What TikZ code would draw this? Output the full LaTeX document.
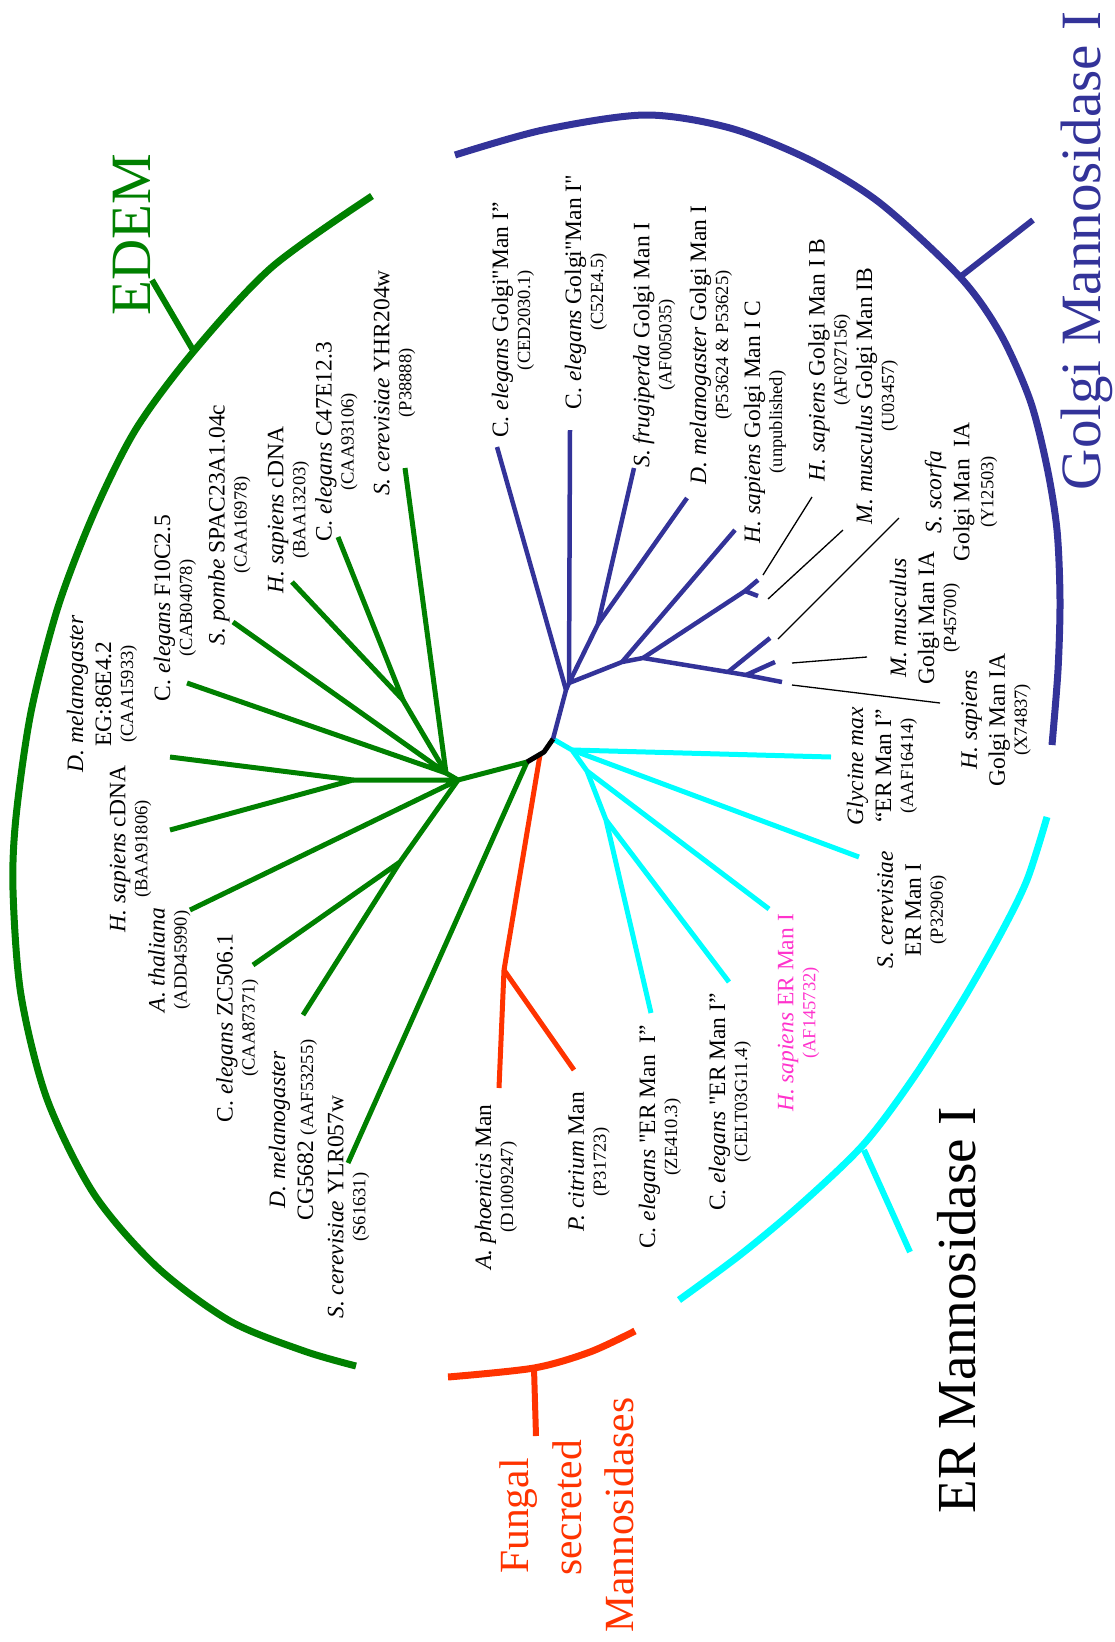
\documentclass[tikz,border=0pt]{standalone}
\usepackage{fontspec}
\setmainfont{Liberation Serif}[Ligatures=TeXOff]
\definecolor{edemgreen}{RGB}{0,128,0}
\definecolor{golgiblue}{RGB}{51,51,153}
\definecolor{ercyan}{RGB}{0,255,255}
\definecolor{fungred}{RGB}{255,51,0}
\definecolor{hsmag}{RGB}{255,51,204}
\newcommand\acc[1]{{\fontsize{18.5}{22}\selectfont #1}}
\tikzset{
 lbl/.style={rotate=90, align=center, inner sep=0pt, font=\fontsize{23.5}{28}\selectfont},
 big/.style={rotate=90, anchor=base, inner sep=0pt},
 gbr/.style={draw=edemgreen, line width=5pt, line join=round},
 bbr/.style={draw=golgiblue, line width=4.5pt, line join=round},
 cbr/.style={draw=ercyan, line width=5pt, line join=round},
 rbr/.style={draw=fungred, line width=5pt, line join=round},
 kbr/.style={draw=black, line width=5pt, line join=round},
 arcst/.style={line width=7pt},
 tickst/.style={line width=6pt},
 leader/.style={draw=black, line width=1.3pt},
}
\begin{document}
\begin{tikzpicture}[x=1pt,y=-1pt]
\useasboundingbox (0,0) rectangle (1115,1642);

% ---------- clade arcs ----------
\draw[arcst, edemgreen] plot[smooth] coordinates {(372,196) (272,267) (194,351) (136,429) (94,513) (58,607) (31,712) (16,817) (13,890) (21,995) (47,1099) (94,1194) (157,1267) (230,1321) (304,1351) (356,1366)};
\draw[arcst, golgiblue] plot[smooth] coordinates {(455,155) (543,130) (645,115) (730,128) (810,160) (880,203) (960,277) (1000,333) (1030,400) (1047,467) (1057,530) (1060,600) (1058,670) (1052,745)};
\draw[arcst, ercyan] plot[smooth] coordinates {(1047,817) (1027,880) (1000,935) (960,1005) (912,1080) (863,1145) (800,1205) (740,1255) (679,1300)};
\draw[arcst, fungred] plot[smooth] coordinates {(448,1377) (534,1368) (590,1352) (635,1331)};

\coordinate (tkg1) at (193,350); \coordinate (tkg2) at (152,280);
\coordinate (tkb1) at (960,277); \coordinate (tkb2) at (1033,220);
\coordinate (tkc1) at (864,1150); \coordinate (tkc2) at (910,1252);
\coordinate (tkr1) at (534,1368); \coordinate (tkr2) at (536,1436);
\draw[tickst, edemgreen] (tkg1) -- (tkg2);
\draw[tickst, golgiblue] (tkb1) -- (tkb2);
\draw[tickst, ercyan] (tkc1) -- (tkc2);
\draw[tickst, fungred] (tkr1) -- (tkr2);

% ---------- clade titles ----------
\node[big, text=edemgreen, font=\fontsize{57}{60}\selectfont] (tEDEM) at (150,235) {EDEM};
\node[big, text=golgiblue, font=\fontsize{57}{60}\selectfont] (tGolgi) at (1100,251) {Golgi Mannosidase I};
\node[big, text=black, font=\fontsize{55}{60}\selectfont] (tER) at (975,1310) {ER Mannosidase I};
\node[big, text=fungred, font=\fontsize{41.5}{52}\selectfont] (tF1) at (528,1516) {Fungal};
\node[big, text=fungred, font=\fontsize{41.5}{52}\selectfont] (tF2) at (581,1508) {secreted};
\node[big, text=fungred, font=\fontsize{41.5}{52}\selectfont] (tF3) at (633,1515) {Mannosidases};

% ---------- tree coordinates ----------
% green
\coordinate (E) at (527,762);
\coordinate (A2) at (458,780);
\coordinate (A) at (446,773);
\coordinate (C) at (403,700);
\coordinate (B) at (353,780);
\coordinate (D) at (400,862);
\coordinate (gt1) at (170,757);
\coordinate (gt2) at (187,683);
\coordinate (gt3) at (233,622);
\coordinate (gt4) at (292,582);
\coordinate (gt5) at (338,537);
\coordinate (gt6) at (405,468);
\coordinate (gt7) at (170,830);
\coordinate (gt8) at (190,910);
\coordinate (gt9) at (253,965);
\coordinate (gt10) at (303,1015);
\coordinate (gt11) at (348,1163);
% black / root
\coordinate (K1) at (544,752);
\coordinate (R0) at (553,739);
\coordinate (Rs) at (540,755);
% red
\coordinate (F) at (504,970);
\coordinate (rt1) at (499,1088);
\coordinate (rt2) at (574,1070);
% blue
\coordinate (J0) at (566,690);
\coordinate (J) at (569,683);
\coordinate (K) at (598,624);
\coordinate (L) at (622,662);
\coordinate (M) at (643,658);
\coordinate (N) at (745,591);
\coordinate (O) at (728,672);
\coordinate (P) at (746,675);
\coordinate (bt1) at (497,447);
\coordinate (bt2) at (570,430);
\coordinate (bt3) at (634,468);
\coordinate (bt4) at (687,498);
\coordinate (bt5) at (735,530);
\coordinate (bt6) at (758,580);
\coordinate (bt7) at (758,596);
\coordinate (bt8) at (770,638);
\coordinate (bt9) at (775,662);
\coordinate (bt10) at (782,682);
% cyan
\coordinate (G) at (572,750);
\coordinate (H) at (587,771);
\coordinate (I) at (606,820);
\coordinate (ct1) at (831,757);
\coordinate (ct2) at (859,857);
\coordinate (ct3) at (769,909);
\coordinate (ct4) at (729,982);
\coordinate (ct5) at (651,1013);

% ---------- branches ----------
\draw[gbr] (gt11) -- (E) -- (A2) -- (A) -- (gt6);
\draw[gbr] (gt2) -- (A) -- (gt3);
\draw[gbr] (gt4) -- (C) -- (gt5);
\draw[gbr] (C) -- (A);
\draw[gbr] (gt1) -- (B) -- (gt7);
\draw[gbr] (B) -- (A2) -- (gt8);
\draw[gbr] (A2) -- (D) -- (gt9);
\draw[gbr] (D) -- (gt10);

\draw[rbr] (Rs) -- (F) -- (rt1);
\draw[rbr] (F) -- (rt2);

\draw[cbr] (R0) -- (G) -- (H) -- (I) -- (ct5);
\draw[cbr] (G) -- (ct1);
\draw[cbr] (G) -- (ct2);
\draw[cbr] (H) -- (ct3);
\draw[cbr] (I) -- (ct4);

\draw[bbr] (R0) -- (J0) -- (J) -- (bt2);
\draw[bbr] (bt1) -- (J0);
\draw[bbr] (bt3) -- (K) -- (J) -- (L) -- (M) -- (O) -- (P) -- (bt10);
\draw[bbr] (bt4) -- (K);
\draw[bbr] (bt5) -- (L);
\draw[bbr] (M) -- (N) -- (bt6);
\draw[bbr] (N) -- (bt7);
\draw[bbr] (O) -- (bt8);
\draw[bbr] (P) -- (bt9);

\draw[kbr] (E) -- (K1) -- (R0);

% ---------- leader lines ----------
\coordinate (ld1a) at (763,575); \coordinate (ld1b) at (812,497);
\coordinate (ld2a) at (768,599); \coordinate (ld2b) at (843,530);
\coordinate (ld3a) at (778,639); \coordinate (ld3b) at (899,518);
\coordinate (ld4a) at (792,663); \coordinate (ld4b) at (867,657);
\coordinate (ld5a) at (792,685); \coordinate (ld5b) at (940,703);
\draw[leader] (ld1a) -- (ld1b);
\draw[leader] (ld2a) -- (ld2b);
\draw[leader] (ld3a) -- (ld3b);
\draw[leader] (ld4a) -- (ld4b);
\draw[leader] (ld5a) -- (ld5b);

% ---------- labels: EDEM ----------
\node[lbl] (Lg1) at (102,694) {\textit{D. melanogaster}\\EG:86E4.2\\[-6pt]\acc{(CAA15933)}};
\node[lbl] (Lg2) at (175,608) {C. \textit{elegans} F10C2.5\\[-6pt]\acc{(CAB04078)}};
\node[lbl] (Lg3) at (229.5,525) {\textit{S. pombe} SPAC23A1.04c\\[-6pt]\acc{(CAA16978)}};
\node[lbl] (Lg4) at (288.5,510) {\textit{H. sapiens} cDNA\\[-6pt]\acc{(BAA13203)}};
\node[lbl] (Lg5) at (336.5,442) {C. \textit{elegans} C47E12.3\\[-6pt]\acc{(CAA93106)}};
\node[lbl] (Lg6) at (394.5,383) {\textit{S. cerevisiae} YHR204w\\[-6pt]\acc{(P38888)}};
\node[lbl] (Lg7) at (130.5,849) {\textit{H. sapiens} cDNA\\[-6pt]\acc{(BAA91806)}};
\node[lbl] (Lg8) at (169.5,960) {\textit{A. thaliana}\\[-6pt]\acc{(ADD45990)}};
\node[lbl] (Lg9) at (237.5,1028) {C. \textit{elegans} ZC506.1\\[-6pt]\acc{(CAA87371)}};
\node[lbl] (Lg10) at (293,1130) {\textit{D. melanogaster}\\CG5682 \acc{(AAF53255)}};
\node[lbl] (Lg11) at (348.5,1207) {\textit{S. cerevisiae} YLR057w\\[-6pt]\acc{(S61631)}};

% ---------- labels: fungal ----------
\node[lbl] (Lr1) at (496,1187) {\textit{A. phoenicis} Man\\[-6pt]\acc{(D1009247)}};
\node[lbl] (Lr2) at (589,1162) {\textit{P. citrium} Man\\[-6pt]\acc{(P31723)}};

% ---------- labels: ER ----------
\node[lbl] (Lc1) at (660,1137) {C. \textit{elegans} "ER Man~~I”\\[-6pt]\acc{(ZE410.3)}};
\node[lbl] (Lc2) at (730,1102) {C. \textit{elegans} "ER Man I”\\[-6pt]\acc{(CELT03G11.4)}};
\node[lbl, text=hsmag] (Lc3) at (798.5,1013) {\textit{H. sapiens} ER Man I\\[-6pt]\acc{(AF145732)}};
\node[lbl] (Lc4) at (912,910) {\textit{S. cerevisiae}\\ER Man I\\[-6pt]\acc{(P32906)}};
\node[lbl] (Lc5) at (882,766) {\textit{Glycine max}\\“ER Man I”\\[-6pt]\acc{(AAF16414)}};

% ---------- labels: Golgi ----------
\node[lbl] (Lb1) at (513,320) {C. \textit{elegans} Golgi"Man I”\\[-6pt]\acc{(CED2030.1)}};
\node[lbl] (Lb2) at (586,292) {C. \textit{elegans} Golgi"Man I"\\[-6pt]\acc{(C52E4.5)}};
\node[lbl] (Lb3) at (654,345) {\textit{S. frugiperda} Golgi Man I\\[-6pt]\acc{(AF005035)}};
\node[lbl] (Lb4) at (711,345) {\textit{D. melanogaster} Golgi Man I\\[-6pt]\acc{(P53624 \& P53625)}};
\node[lbl] (Lb5) at (765,422) {\textit{H. sapiens} Golgi Man I C\\[-6pt]\acc{(unpublished)}};
\node[lbl] (Lb6) at (829.5,360) {\textit{H. sapiens} Golgi Man I B\\[-6pt]\acc{(AF027156)}};
\node[lbl] (Lb7) at (877,396) {\textit{M. musculus} Golgi Man IB\\[-6pt]\acc{(U03457)}};
\node[lbl] (Lb8) at (961,492) {\textit{S. scorfa}\\Golgi Man~~IA\\[-4pt]\acc{(Y12503)}};
\node[lbl] (Lb9) at (925,618) {\textit{M. musculus}\\Golgi Man IA\\[-6pt]\acc{(P45700)}};
\node[lbl] (Lb10) at (996,720) {\textit{H. sapiens}\\Golgi Man IA\\[-6pt]\acc{(X74837)}};
\end{tikzpicture}
\end{document}
